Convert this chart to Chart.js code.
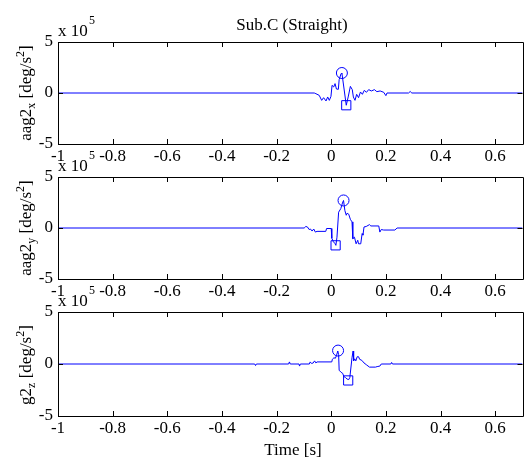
<!DOCTYPE html>
<html><head><meta charset="utf-8">
<script src="https://cdn.jsdelivr.net/npm/chart.js@4/dist/chart.umd.min.js"></script>
<style>
html,body{margin:0;padding:0;background:#fff;overflow:hidden;width:526px;height:459px;position:relative;}
canvas{position:absolute;left:0;top:0;}
.t{position:absolute;font-family:"Liberation Serif","Times New Roman",serif;font-size:17px;line-height:17px;color:#000;white-space:nowrap;}
.yl{transform:translate(-50%,-50%) rotate(-90deg);}
.sb{font-size:12px;position:relative;top:4px;}
.sp{font-size:12px;position:relative;top:-7px;}
.s5{font-size:12px;line-height:12px;}
</style></head><body>
<canvas id="c1" width="530" height="459"></canvas>
<canvas id="c2" width="530" height="459"></canvas>
<canvas id="c3" width="530" height="459"></canvas>

<div class="t" style="left:292px;top:16px;transform:translateX(-50%);">Sub.C (Straight)</div>

<div class="t" style="left:58px;top:22px;">x 10</div>
<div class="t s5" style="left:89px;top:14px;">5</div>
<div class="t" style="left:58px;top:157px;">x 10</div>
<div class="t s5" style="left:89px;top:149px;">5</div>
<div class="t" style="left:58px;top:292px;">x 10</div>
<div class="t s5" style="left:89px;top:284px;">5</div>

<div class="t yl" style="left:26px;top:93px;">aag2<span class="sb">x</span> [deg/s<span class="sp">2</span>]</div>
<div class="t yl" style="left:26px;top:228px;">aag2<span class="sb">y</span> [deg/s<span class="sp">2</span>]</div>
<div class="t yl" style="left:26px;top:365px;">g2<span class="sb">z</span> [deg/s<span class="sp">2</span>]</div>

<div class="t" style="left:293px;top:441px;transform:translateX(-50%);">Time [s]</div>

<script>
// ---- data (values in units of 1e5 deg/s^2) ----
const timeX = [-1,-0.062,-0.056,-0.044,-0.035,-0.028,-0.019,-0.013,-0.007,-0.001,0.003,0.009,0.014,0.019,0.026,0.029,0.036,0.039,0.055,0.062,0.07,0.077,0.081,0.087,0.093,0.1,0.107,0.114,0.121,0.129,0.137,0.147,0.158,0.167,0.179,0.192,0.2,0.204,0.283,0.289,0.295,0.7];
const aagX  = [0,0,-0.07,-0.23,-0.72,-0.46,-0.78,-0.39,-0.72,-0.33,0.75,0.59,0.92,0.39,0.36,1.31,1.9,1.96,-1.2,-0.39,0.65,0.33,-0.39,-0.72,-0.13,-0.46,0.1,-0.13,0.26,0.07,0.33,0.2,0.33,0.13,0.2,0.07,-0.26,0,0,0.15,0,0];
const peakX = [0.039,1.96];   // circle marker
const troughX = [0.055,-1.2]; // square marker

const timeY = [-1,-0.099,-0.093,-0.087,-0.081,-0.076,-0.07,-0.064,-0.058,-0.052,-0.02,-0.017,0,0.002,0.008,0.013,0.017,0.021,0.027,0.035,0.041,0.045,0.05,0.055,0.058,0.064,0.07,0.076,0.079,0.085,0.091,0.097,0.1,0.108,0.113,0.116,0.12,0.128,0.14,0.145,0.174,0.178,0.183,0.192,0.233,0.241,0.7];
const aagY  = [0,0,0.15,0.1,-0.15,-0.1,-0.3,-0.1,-0.4,-0.33,-0.33,-0.05,-0.05,-1.0,-1.35,-1.5,-1.7,-0.9,1.55,1.9,2.45,2.7,1.7,1.25,1.45,1.35,0.85,0.6,-1.05,-0.9,-1.55,-1.2,-1.55,-1.55,-0.55,-0.7,0.1,0.15,0.33,0.2,0.2,-0.4,-0.15,-0.2,-0.2,0,0];
const peakY = [0.045,2.7];
const troughY = [0.016,-1.7];

const timeZ = [-1,-0.28,-0.277,-0.274,-0.156,-0.153,-0.15,-0.118,-0.116,-0.113,-0.08,-0.077,-0.072,-0.066,-0.061,-0.056,-0.052,0.002,0.004,0.01,0.015,0.019,0.024,0.027,0.029,0.036,0.042,0.046,0.052,0.058,0.064,0.068,0.076,0.08,0.082,0.086,0.09,0.095,0.1,0.104,0.112,0.12,0.13,0.14,0.162,0.168,0.178,0.183,0.218,0.221,0.224,0.7];
const g2Z   = [0,0,-0.15,0,0,0.2,0,0,-0.2,0,0,0.2,0.05,0.1,0.3,0.1,0.2,0.2,0.45,0.6,0.55,0.8,1.25,0.9,-0.6,-0.8,-0.9,-1.2,-1.3,-1.45,-1.5,-1.3,0.6,1.25,0.3,0.5,0.3,0.7,0.7,0.45,0.35,0.1,-0.1,-0.3,-0.3,-0.25,-0.2,0,0,0.15,0,0];
const peakZ = [0.025,1.29];
const troughZ = [0.062,-1.58];

const xTicks = [-1,-0.8,-0.6,-0.4,-0.2,0,0.2,0.4,0.6];
const xTickLabels = ["-1","-0.8","-0.6","-0.4","-0.2","0","0.2","0.4","0.6"];
const yTicks = [-5,0,5];
const yTickLabels = ["-5","0","5"];

// ---- drawing ----
const FONT = {family:"Liberation Serif", size:17};
const W = 530, H = 459;

const boxPlugin = {
  id:'box',
  afterDraw(chart){
    const {ctx, chartArea:a, scales} = chart;
    ctx.save();
    ctx.strokeStyle = '#000';
    ctx.lineWidth = 1;
    ctx.beginPath();
    ctx.rect(Math.round(a.left)+0.5, Math.round(a.top)+0.5, Math.round(a.right-a.left), Math.round(a.bottom-a.top));
    ctx.stroke();
    ctx.beginPath();
    const L = 5;
    scales.x.ticks.forEach(t => {
      const px = Math.round(scales.x.getPixelForValue(t.value))+0.5;
      ctx.moveTo(px, a.bottom); ctx.lineTo(px, a.bottom - L);
      ctx.moveTo(px, a.top); ctx.lineTo(px, a.top + L);
    });
    scales.y.ticks.forEach(t => {
      const py = Math.round(scales.y.getPixelForValue(t.value))+0.5;
      ctx.moveTo(a.left, py); ctx.lineTo(a.left + L, py);
      ctx.moveTo(a.right, py); ctx.lineTo(a.right - L, py);
    });
    ctx.stroke();
    ctx.restore();
  }
};

function makeChart(id, top, bottom, ts, vs, peak, trough){
  const pts = ts.map((t,i)=>({x:t, y:vs[i]}));
  new Chart(document.getElementById(id), {
    type:'line',
    data:{datasets:[
      {data:pts, borderColor:'#0000ff', borderWidth:1, pointRadius:0, fill:false, tension:0},
      {data:[{x:peak[0],y:peak[1]}], showLine:false, pointStyle:'circle', pointRadius:5.5, pointBorderColor:'#0000ff', pointBackgroundColor:'rgba(0,0,0,0)', pointBorderWidth:1},
      {data:[{x:trough[0],y:trough[1]}], showLine:false, pointStyle:'rect', pointRadius:6.5, pointBorderColor:'#0000ff', pointBackgroundColor:'rgba(0,0,0,0)', pointBorderWidth:1}
    ]},
    options:{
      responsive:false, animation:false, devicePixelRatio:1,
      layout:{padding:{left:0, right:3, top:top, bottom:H-bottom-20}},
      plugins:{legend:{display:false}, tooltip:{enabled:false}},
      scales:{
        x:{type:'linear', min:-1, max:0.7,
          afterBuildTicks:s=>{s.ticks = xTicks.map(v=>({value:v}));},
          afterFit:s=>{s.height = 20;},
          ticks:{font:FONT, color:'#000', padding:2, maxRotation:0, autoSkip:false,
            callback:(v,i)=>xTickLabels[i]},
          grid:{display:false, drawTicks:false}, border:{display:false}},
        y:{type:'linear', min:-5, max:5,
          afterBuildTicks:s=>{s.ticks = yTicks.map(v=>({value:v}));},
          afterFit:s=>{s.width = 58;},
          ticks:{font:FONT, color:'#000', padding:5, callback:(v,i)=>yTickLabels[i]},
          grid:{display:false, drawTicks:false}, border:{display:false}}
      }
    },
    plugins:[boxPlugin]
  });
}

makeChart('c1', 42, 144, timeX, aagX, peakX, troughX);
makeChart('c2', 177, 279, timeY, aagY, peakY, troughY);
makeChart('c3', 312, 416, timeZ, g2Z, peakZ, troughZ);
</script>
</body></html>
